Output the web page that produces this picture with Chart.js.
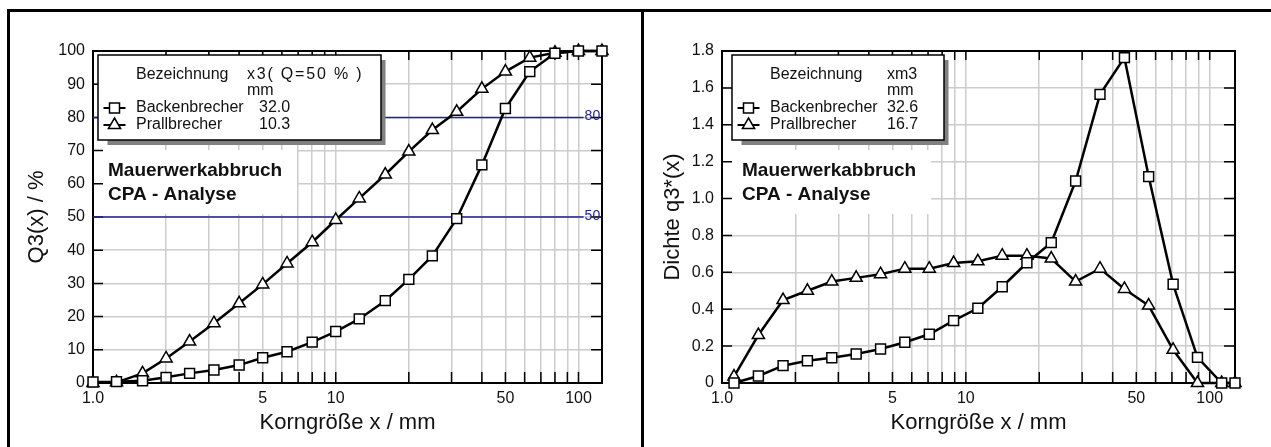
<!DOCTYPE html>
<html>
<head>
<meta charset="utf-8">
<script src="https://cdn.jsdelivr.net/npm/chart.js"></script>
<style>
html, body { margin: 0; padding: 0; background: #fff; }
body { width: 1271px; height: 447px; position: relative; overflow: hidden; }
canvas { position: absolute; top: 0; }
#left { left: 0; }
#right { left: 641px; }
.frame { position: absolute; left: 7px; top: 9px; width: 1300px; height: 500px; border-left: 3px solid #000; border-top: 3px solid #000; }
.divider { position: absolute; left: 641px; top: 9px; width: 2.5px; height: 450px; background: #000; }
</style>
</head>
<body>
<canvas id="left" width="641" height="447"></canvas>
<canvas id="right" width="630" height="447"></canvas>
<div class="frame"></div>
<div class="divider"></div>
<script>
// sieve sizes in mm (upper class limits)
var sieveX = [1.0, 1.25, 1.6, 2.0, 2.5, 3.15, 4.0, 5.0, 6.3, 8.0, 10, 12.5, 16, 20, 25, 31.5, 40, 50, 63, 80, 100, 125];
var q3Backen = [0.3, 0.4, 0.7, 1.7, 2.9, 3.9, 5.4, 7.6, 9.4, 12.3, 15.5, 19.3, 24.8, 31.2, 38.3, 49.5, 65.7, 82.7, 93.8, 99.3, 100, 100];
var q3Prall = [0, 0.2, 2.9, 7.4, 12.5, 18.0, 24.0, 29.7, 36.0, 42.4, 49.1, 55.6, 62.8, 69.7, 76.2, 81.7, 88.6, 93.8, 98.0, 99.5, 100, 100];

// class means in mm for the density curve
var midX = [1.12, 1.41, 1.78, 2.24, 2.82, 3.55, 4.47, 5.62, 7.08, 8.91, 11.2, 14.1, 17.8, 22.4, 28.2, 35.5, 44.7, 56.2, 70.8, 89.1, 112, 127];
var densBacken = [0, 0.038, 0.094, 0.121, 0.137, 0.157, 0.184, 0.221, 0.264, 0.338, 0.405, 0.522, 0.652, 0.761, 1.095, 1.565, 1.764, 1.119, 0.535, 0.139, 0, 0];
var densPrall = [0.035, 0.26, 0.45, 0.50, 0.55, 0.57, 0.59, 0.62, 0.62, 0.65, 0.66, 0.69, 0.69, 0.675, 0.55, 0.62, 0.51, 0.42, 0.18, 0, 0, 0];

var seriesNames = ["Backenbrecher", "Prallbrecher"];
var x50Values = ["32.0", "10.3"];
var xm3Values = ["32.6", "16.7"];
var noteLines = ["Mauerwerkabbruch", "CPA - Analyse"];

var refLevels = [80, 50];
var refEnd = 105;

var gridX = [1, 2, 3, 4, 5, 6, 7, 8, 9, 10, 20, 30, 40, 50, 60, 70, 80, 90, 100];
var xTickValues = [1, 5, 10, 50, 100];
var xTickText = ["1.0", "5", "10", "50", "100"];

var FONT = '"Liberation Sans", Arial, Helvetica, sans-serif';
Chart.defaults.font.family = FONT;
Chart.defaults.color = "#111";

function pts(xs, ys) {
    return xs.map(function (x, i) { return { x: x, y: ys[i] }; });
}

function seriesSet(label, data, style) {
    return {
        label: label,
        data: data,
        borderColor: "#000",
        borderWidth: 2.5,
        tension: 0,
        clip: false,
        pointStyle: style,
        pointRadius: 7,
        pointHoverRadius: 7,
        pointBackgroundColor: "#fff",
        pointBorderColor: "#000",
        pointBorderWidth: 1.5
    };
}

function drawMarker(ctx, style, x, y) {
    ctx.beginPath();
    if (style === "rect") {
        ctx.rect(x - 5, y - 5, 10, 10);
    } else {
        ctx.moveTo(x, y - 7);
        ctx.lineTo(x + 6.1, y + 3.5);
        ctx.lineTo(x - 6.1, y + 3.5);
        ctx.closePath();
    }
    ctx.fillStyle = "#fff";
    ctx.fill();
    ctx.lineWidth = 1.5;
    ctx.strokeStyle = "#000";
    ctx.stroke();
}

var decor = {
    id: "decor",
    beforeDatasetsDraw: function (chart, args, o) {
        var ctx = chart.ctx, a = chart.chartArea;
        var xs = chart.scales.x, ys = chart.scales.y;
        ctx.save();
        // white note area
        ctx.fillStyle = "#fff";
        ctx.fillRect(a.left + 1, 150, o.noteW, 64);
        ctx.font = "bold 19px " + FONT;
        ctx.fillStyle = "#111";
        ctx.textAlign = "left";
        ctx.textBaseline = "middle";
        ctx.fillText(noteLines[0], a.left + o.noteX, 171);
        ctx.fillText(noteLines[1], a.left + o.noteX, 195);
        // inward ticks
        ctx.strokeStyle = "#000";
        ctx.lineWidth = 1.5;
        ctx.beginPath();
        gridX.forEach(function (v) {
            var px = xs.getPixelForValue(v);
            ctx.moveTo(px, a.bottom); ctx.lineTo(px, a.bottom - 11);
            ctx.moveTo(px, a.top); ctx.lineTo(px, a.top + 9);
        });
        ys.ticks.forEach(function (t) {
            var py = ys.getPixelForValue(t.value);
            ctx.moveTo(a.left, py); ctx.lineTo(a.left + 10, py);
            ctx.moveTo(a.right, py); ctx.lineTo(a.right - 11, py);
        });
        ctx.stroke();
        // plot frame
        ctx.lineWidth = 2;
        ctx.strokeRect(a.left, a.top, a.right - a.left, a.bottom - a.top);
        ctx.restore();
    },
    afterDatasetsDraw: function (chart, args, o) {
        var ctx = chart.ctx, a = chart.chartArea;
        ctx.save();
        // labels at the end of the reference lines
        chart.data.datasets.forEach(function (ds, i) {
            if (!ds.refLabel) return;
            var p = chart.getDatasetMeta(i).data[1];
            ctx.font = "14px " + FONT;
            ctx.fillStyle = "#22229a";
            ctx.textAlign = "left";
            ctx.textBaseline = "middle";
            ctx.fillText(ds.refLabel, p.x + 1, p.y - 1);
        });
        // legend table
        var bx = a.left + o.legendDx, by = a.top + 4, bw = o.legendW, bh = 85;
        ctx.fillStyle = "#808080";
        ctx.fillRect(bx + 9.5, by + 5, bw - 5, bh);
        ctx.fillStyle = "#fff";
        ctx.fillRect(bx, by, bw, bh);
        ctx.strokeStyle = "#000";
        ctx.lineWidth = 1.5;
        ctx.strokeRect(bx, by, bw, bh);

        ctx.font = "16px " + FONT;
        ctx.fillStyle = "#111";
        ctx.textAlign = "left";
        ctx.textBaseline = "middle";
        ctx.fillText("Bezeichnung", bx + 38, by + 20);
        ctx.letterSpacing = o.headerSpacing;
        ctx.fillText(o.header, bx + o.col2, by + 20);
        ctx.letterSpacing = "0px";
        ctx.fillText("mm", bx + o.col2, by + 36);
        var styles = ["rect", "triangle"];
        for (var i = 0; i < seriesNames.length; i++) {
            var ry = by + 53 + i * 17;
            ctx.fillStyle = "#111";
            ctx.fillText(seriesNames[i], bx + 38, ry);
            ctx.fillText(o.values[i], bx + o.valX, ry);
            ctx.beginPath();
            ctx.moveTo(bx + 5.5, ry);
            ctx.lineTo(bx + 27.5, ry);
            ctx.lineWidth = 2;
            ctx.strokeStyle = "#000";
            ctx.stroke();
            drawMarker(ctx, styles[i], bx + 16.5, ry);
        }
        ctx.restore();
    }
};

function xAxis(max) {
    return {
        type: "logarithmic",
        min: 1,
        max: max,
        afterBuildTicks: function (scale) {
            scale.ticks = gridX.map(function (v) { return { value: v }; });
        },
        afterFit: function (scale) { scale.height = 64; },
        ticks: {
            autoSkip: false,
            maxRotation: 0,
            padding: 6,
            font: { size: 16 },
            callback: function (v) {
                var k = xTickValues.indexOf(v);
                return k < 0 ? "" : xTickText[k];
            }
        },
        grid: { color: "#cccccc", lineWidth: 1.5, drawTicks: false },
        border: { display: false },
        title: { display: true, text: "Korngröße x / mm", font: { size: 22 }, padding: { top: 0, bottom: 11 } }
    };
}

function yAxis(max, step, width, title, titlePad, fmt) {
    return {
        type: "linear",
        min: 0,
        max: max,
        afterFit: function (scale) { scale.width = width; },
        ticks: { stepSize: step, padding: 8, font: { size: 16 }, callback: fmt },
        grid: { color: "#cccccc", lineWidth: 1.5, drawTicks: false },
        border: { display: false },
        title: { display: true, text: title, font: { size: 22 }, padding: { top: titlePad, bottom: 0 } }
    };
}

var leftSets = [
    seriesSet(seriesNames[0], pts(sieveX, q3Backen), "rect"),
    seriesSet(seriesNames[1], pts(sieveX, q3Prall), "triangle")
];
refLevels.forEach(function (lv) {
    leftSets.push({
        label: "Q=" + lv,
        refLabel: String(lv),
        data: [{ x: 1, y: lv }, { x: refEnd, y: lv }],
        borderColor: "#22229a",
        borderWidth: 1.5,
        pointRadius: 0,
        clip: false
    });
});

new Chart(document.getElementById("left"), {
    type: "line",
    data: { datasets: leftSets },
    options: {
        responsive: false,
        animation: false,
        devicePixelRatio: 1,
        layout: { padding: { left: 0, right: 39, top: 51, bottom: 0 } },
        plugins: {
            legend: { display: false },
            tooltip: { enabled: false },
            decor: { legendDx: 5, legendW: 283, col2: 149, valX: 161, header: "x3( Q=50 % )", headerSpacing: "1.8px", values: x50Values, noteX: 15, noteW: 203 }
        },
        scales: {
            x: xAxis(125),
            y: yAxis(100, 10, 93, "Q3(x) / %", 24, function (v) { return String(v); })
        }
    },
    plugins: [decor]
});

new Chart(document.getElementById("right"), {
    type: "line",
    data: {
        datasets: [
            seriesSet(seriesNames[0], pts(midX, densBacken), "rect"),
            seriesSet(seriesNames[1], pts(midX, densPrall), "triangle")
        ]
    },
    options: {
        responsive: false,
        animation: false,
        devicePixelRatio: 1,
        layout: { padding: { left: 0, right: 36, top: 51, bottom: 0 } },
        plugins: {
            legend: { display: false },
            tooltip: { enabled: false },
            decor: { legendDx: 10, legendW: 212, col2: 155, valX: 155, header: "xm3", headerSpacing: "0px", values: xm3Values, noteX: 20, noteW: 208 }
        },
        scales: {
            x: xAxis(127),
            y: yAxis(1.8, 0.2, 81, "Dichte q3*(x)", 19, function (v) { return v === 0 ? "0" : Number(v).toFixed(1); })
        }
    },
    plugins: [decor]
});
</script>
</body>
</html>
